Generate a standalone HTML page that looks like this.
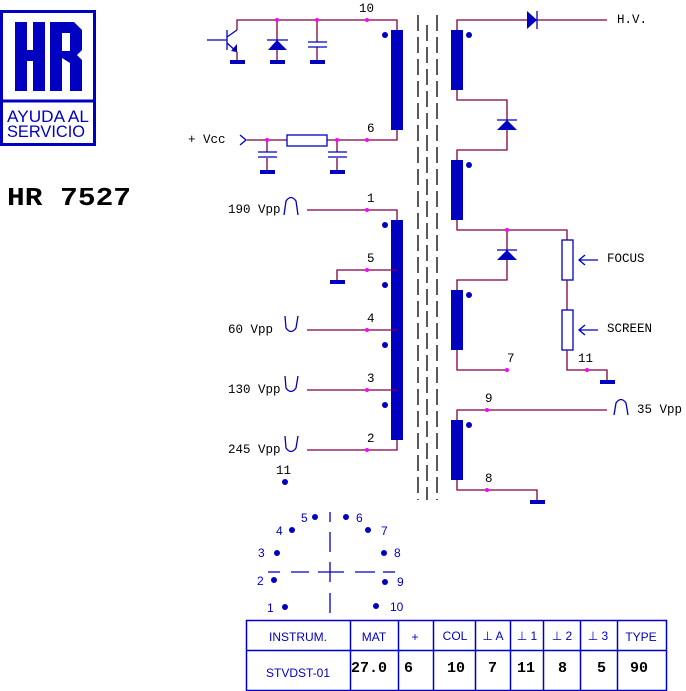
<!DOCTYPE html>
<html><head><meta charset="utf-8"><style>
body{margin:0;background:#fff;}
svg{display:block}
.w{stroke:#800040;stroke-width:1.3;fill:none}
.b{fill:#0000c0}
.t{font-family:"Liberation Mono",monospace;font-size:12.5px;fill:#000}
.h{font-family:"Liberation Sans",sans-serif;font-size:12px;fill:#0000c0}
.v{font-family:"Liberation Mono",monospace;font-size:15px;font-weight:bold;fill:#000}
.d{stroke:#000;stroke-width:1.3;stroke-dasharray:16 6}
.bl{stroke:#0000c0;stroke-width:1.3;fill:none}
</style></head><body>
<svg width="686" height="691" viewBox="0 0 686 691" xmlns="http://www.w3.org/2000/svg">
<!-- logo -->
<rect x="1.5" y="11.5" width="93" height="133" fill="none" stroke="#0000c0" stroke-width="3"/>
<line x1="1" y1="101" x2="95" y2="101" stroke="#0000c0" stroke-width="3"/>
<g class="b">
<rect x="15" y="22" width="12" height="69"/><rect x="33" y="22" width="12" height="69"/>
<rect x="15" y="50" width="30" height="11"/>
<rect x="50" y="22" width="12" height="69"/>
<path d="M50,22 L74,22 L82,30 L82,50 L77,55 L82,60 L82,91 L70,91 L70,63 L62,58 L62,51 L70,51 L70,33 L62,33 Z"/>
</g>
<text x="7" y="122" font-family="Liberation Sans,sans-serif" font-size="17" fill="#0000c0" textLength="82" lengthAdjust="spacingAndGlyphs">AYUDA AL</text>
<text x="7" y="137" font-family="Liberation Sans,sans-serif" font-size="17" fill="#0000c0" textLength="78" lengthAdjust="spacingAndGlyphs">SERVICIO</text>
<text x="7" y="205" font-family="Liberation Mono,monospace" font-weight="bold" font-size="26" fill="#000" textLength="124" lengthAdjust="spacingAndGlyphs">HR 7527</text>

<!-- core dashes -->
<line class="d" x1="418" y1="15" x2="418" y2="500"/>
<line class="d" x1="427" y1="25" x2="427" y2="500"/>
<line class="d" x1="437" y1="15" x2="437" y2="500"/>

<!-- top primary -->
<polyline class="w" points="237,30 237,20 397,20 397,30"/>
<line x1="207" y1="40" x2="227" y2="40" class="bl"/>
<line x1="227" y1="30" x2="227" y2="50" class="bl" stroke-width="1.5"/>
<line x1="227" y1="37" x2="237" y2="30" class="bl"/>
<line x1="227" y1="43" x2="237" y2="52" class="bl"/>
<polygon class="b" points="231,51 237,44 237,52"/>
<line x1="237" y1="52" x2="237" y2="60" class="w"/>
<rect class="b" x="230" y="60" width="15" height="4"/>
<line x1="277" y1="20" x2="277" y2="60" class="w"/>
<line x1="267" y1="40" x2="288" y2="40" class="bl"/>
<polygon class="b" points="277,40 268,50 287,50"/>
<rect class="b" x="270" y="60" width="15" height="4"/>
<line x1="317" y1="20" x2="317" y2="42" class="w"/>
<line x1="317" y1="47" x2="317" y2="60" class="w"/>
<line x1="308" y1="42" x2="327" y2="42" class="bl"/>
<line x1="308" y1="47" x2="327" y2="47" class="bl"/>
<rect class="b" x="310" y="60" width="15" height="4"/>
<rect class="b" x="391" y="30" width="12" height="100"/>
<circle class="b" cx="385" cy="35" r="3"/>
<text class="t" x="359" y="12">10</text>
<polyline class="w" points="247,140 287,140"/><polyline class="w" points="327,140 397,140 397,130"/>
<rect x="287" y="135" width="40" height="11" fill="none" stroke="#0000c0" stroke-width="1.3"/>
<polyline class="bl" points="240,135 246,140 240,145"/>
<text class="t" x="188" y="143">+ Vcc</text>
<text class="t" x="367" y="132">6</text>
<line x1="267" y1="140" x2="267" y2="172" class="w"/><line x1="337" y1="140" x2="337" y2="172" class="w"/>
<rect x="258" y="152" width="19" height="6" fill="#fff"/><rect x="328" y="152" width="19" height="6" fill="#fff"/>
<line x1="258" y1="152" x2="277" y2="152" class="bl"/><line x1="258" y1="157" x2="277" y2="157" class="bl"/>
<line x1="328" y1="152" x2="347" y2="152" class="bl"/><line x1="328" y1="157" x2="347" y2="157" class="bl"/>
<rect class="b" x="260" y="170" width="15" height="4"/><rect class="b" x="330" y="170" width="15" height="4"/>

<!-- main primary -->
<rect class="b" x="391" y="220" width="12" height="220"/>
<polyline class="w" points="307,210 397,210 397,220"/>
<polyline class="w" points="337,282 337,270 397,270"/>
<rect class="b" x="330" y="280" width="15" height="4"/>
<line class="w" x1="307" y1="330" x2="397" y2="330"/>
<line class="w" x1="307" y1="390" x2="397" y2="390"/>
<polyline class="w" points="307,450 397,450 397,440"/>
<circle class="b" cx="385" cy="225" r="3"/><circle class="b" cx="385" cy="285" r="3"/>
<circle class="b" cx="385" cy="345" r="3"/><circle class="b" cx="385" cy="405" r="3"/>
<text class="t" x="367" y="202">1</text><text class="t" x="367" y="262">5</text>
<text class="t" x="367" y="322">4</text><text class="t" x="367" y="382">3</text>
<text class="t" x="367" y="442">2</text>
<text class="t" x="228" y="213">190 Vpp</text>
<text class="t" x="228" y="333">60 Vpp</text>
<text class="t" x="228" y="393">130 Vpp</text>
<text class="t" x="228" y="453">245 Vpp</text>
<path class="bl" d="M284,215 L286,201 Q291,194 296,201 L298,215"/>
<path class="bl" d="M285,316 L286,328 Q291,335 296,328 L298,316"/>
<path class="bl" d="M285,376 L286,388 Q291,395 296,388 L298,376"/>
<path class="bl" d="M285,436 L286,448 Q291,455 296,448 L298,436"/>
<text class="t" x="276" y="474">11</text>
<circle class="b" cx="285" cy="482" r="3"/>

<!-- secondary -->
<rect class="b" x="451" y="30" width="12" height="60"/>
<rect class="b" x="451" y="160" width="12" height="60"/>
<rect class="b" x="451" y="290" width="12" height="60"/>
<rect class="b" x="451" y="420" width="12" height="60"/>
<circle class="b" cx="469" cy="35" r="3"/><circle class="b" cx="469" cy="165" r="3"/>
<circle class="b" cx="469" cy="295" r="3"/><circle class="b" cx="469" cy="425" r="3"/>
<polyline class="w" points="457,30 457,20 607,20"/>
<polygon class="b" points="527,11 537,20 527,29"/><line class="bl" x1="537" y1="11" x2="537" y2="29"/>
<text class="t" x="617" y="23">H.V.</text>
<polyline class="w" points="457,90 457,100 507,100 507,150 457,150 457,160"/>
<line class="bl" x1="497" y1="120" x2="517" y2="120"/><polygon class="b" points="507,120 497,130 517,130"/>
<polyline class="w" points="457,220 457,230 567,230 567,240"/>
<polyline class="w" points="507,230 507,280 457,280 457,290"/>
<line class="bl" x1="497" y1="250" x2="517" y2="250"/><polygon class="b" points="507,250 497,260 517,260"/>
<rect x="562" y="240" width="11" height="40" fill="#fff" stroke="#0000c0" stroke-width="1.3"/>
<line class="w" x1="567" y1="280" x2="567" y2="310"/>
<rect x="562" y="310" width="11" height="40" fill="#fff" stroke="#0000c0" stroke-width="1.3"/>
<line class="bl" x1="579" y1="260" x2="598" y2="260"/><polyline class="bl" points="585,255 579,260 585,265"/>
<line class="bl" x1="579" y1="330" x2="598" y2="330"/><polyline class="bl" points="585,325 579,330 585,335"/>
<text class="t" x="607" y="262">FOCUS</text><text class="t" x="607" y="332">SCREEN</text>
<polyline class="w" points="457,350 457,370 507,370"/>
<text class="t" x="507" y="362">7</text>
<polyline class="w" points="567,350 567,370 607,370 607,380"/>
<rect class="b" x="600" y="380" width="15" height="4"/>
<text class="t" x="578" y="362">11</text>
<polyline class="w" points="457,420 457,410 607,410"/>
<text class="t" x="485" y="402">9</text>
<path class="bl" d="M614,415 L616,403 Q621,396 626,403 L628,415"/>
<text class="t" x="637" y="413">35 Vpp</text>
<polyline class="w" points="457,480 457,490 537,490 537,500"/>
<rect class="b" x="530" y="500" width="15" height="4"/>
<text class="t" x="485" y="482">8</text>
<g fill="#ff00ff">
<circle cx="277" cy="20" r="2"/><circle cx="317" cy="20" r="2"/><circle cx="367" cy="20" r="2"/>
<circle cx="267" cy="140" r="2"/><circle cx="337" cy="140" r="2"/><circle cx="367" cy="140" r="2"/>
<circle cx="367" cy="210" r="2"/><circle cx="367" cy="270" r="2"/><circle cx="367" cy="330" r="2"/>
<circle cx="367" cy="390" r="2"/><circle cx="367" cy="450" r="2"/>
<circle cx="507" cy="230" r="2"/><circle cx="507" cy="370" r="2"/><circle cx="587" cy="370" r="2"/>
<circle cx="487" cy="410" r="2"/><circle cx="487" cy="490" r="2"/>
</g>

<!-- socket -->
<g stroke="#0000c0" stroke-width="1.3">
<line x1="330" y1="512" x2="330" y2="522"/><line x1="330" y1="532" x2="330" y2="552"/>
<line x1="330" y1="562" x2="330" y2="582"/><line x1="330" y1="593" x2="330" y2="613"/>
<line x1="268" y1="572" x2="280" y2="572"/><line x1="291" y1="572" x2="309" y2="572"/>
<line x1="318" y1="572" x2="344" y2="572"/><line x1="355" y1="572" x2="375" y2="572"/>
<line x1="383" y1="572" x2="395" y2="572"/>
</g>
<g class="b">
<circle cx="285" cy="607" r="3"/><circle cx="274" cy="580" r="3"/><circle cx="277" cy="553" r="3"/>
<circle cx="292" cy="530" r="3"/><circle cx="315" cy="517" r="3"/><circle cx="346" cy="517" r="3"/>
<circle cx="368" cy="530" r="3"/><circle cx="384" cy="553" r="3"/><circle cx="385" cy="582" r="3"/>
<circle cx="376" cy="606" r="3"/>
</g>
<g font-family="Liberation Sans,sans-serif" font-size="12" fill="#0000c0">
<text x="267" y="612">1</text><text x="257" y="585">2</text><text x="258" y="557">3</text>
<text x="276" y="535">4</text><text x="301" y="522">5</text><text x="356" y="522">6</text>
<text x="381" y="535">7</text><text x="394" y="557">8</text><text x="397" y="586">9</text>
<text x="390" y="611">10</text>
</g>

<!-- table -->
<g stroke="#0000c0" stroke-width="1.5" fill="none">
<rect x="246.5" y="620.5" width="420" height="70"/>
<line x1="246" y1="650.5" x2="666" y2="650.5"/>
<line x1="350.5" y1="620" x2="350.5" y2="690"/><line x1="398.5" y1="620" x2="398.5" y2="690"/>
<line x1="433.5" y1="620" x2="433.5" y2="690"/><line x1="475.5" y1="620" x2="475.5" y2="690"/>
<line x1="510.5" y1="620" x2="510.5" y2="690"/><line x1="543.5" y1="620" x2="543.5" y2="690"/>
<line x1="580.5" y1="620" x2="580.5" y2="690"/><line x1="617.5" y1="620" x2="617.5" y2="690"/>
</g>
<g class="h" text-anchor="middle">
<text x="298" y="641">INSTRUM.</text><text x="374" y="641">MAT</text><text x="415" y="641">+</text>
<text x="455" y="640">COL</text><text x="493" y="640">⊥ A</text><text x="527" y="640">⊥ 1</text>
<text x="562" y="640">⊥ 2</text><text x="598" y="640">⊥ 3</text><text x="641" y="641">TYPE</text>
<text x="298" y="677">STVDST-01</text>
</g>
<g class="v">
<text x="351" y="672">27.0</text><text x="404" y="672">6</text><text x="447" y="672">10</text>
<text x="488" y="672">7</text><text x="517" y="672">11</text><text x="558" y="672">8</text>
<text x="597" y="672">5</text><text x="630" y="672">90</text>
</g>
</svg>
</body></html>
